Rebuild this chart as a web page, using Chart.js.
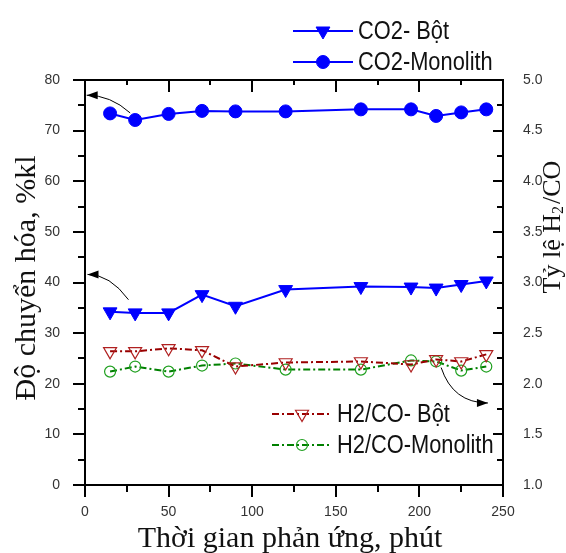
<!DOCTYPE html>
<html>
<head>
    <title>CO2 conversion and H2/CO ratio</title>
    <script src="https://cdn.jsdelivr.net/npm/chart.js@4.4.0/dist/chart.umd.min.js" type="text/javascript"></script>
    <style>
        html, body { margin: 0; padding: 0; background: white; }
        #wrap { width: 566px; height: 553px; }
    </style>
</head>
<body>
    <div id="wrap"><canvas id="chart"></canvas></div>
<script>
    // data
    const times = [15, 30, 50, 70, 90, 120, 165, 195, 210, 225, 240];
    const co2Bot = [34.2, 34.0, 34.0, 37.6, 35.3, 38.6, 39.2, 39.1, 38.9, 39.6, 40.3];
    const co2Mono = [73.4, 72.1, 73.3, 73.9, 73.8, 73.8, 74.2, 74.2, 72.9, 73.6, 74.2];
    const h2coBot = [2.32, 2.32, 2.35, 2.33, 2.17, 2.21, 2.22, 2.19, 2.24, 2.22, 2.29];
    const h2coMono = [2.12, 2.17, 2.12, 2.18, 2.20, 2.14, 2.14, 2.23, 2.22, 2.13, 2.17];

    const xTicks = [0, 50, 100, 150, 200, 250];
    const yTicks = [0, 10, 20, 30, 40, 50, 60, 70, 80];
    const y1Ticks = [1.0, 1.5, 2.0, 2.5, 3.0, 3.5, 4.0, 4.5, 5.0];

    // arrows: start -> tip, with bend (how far along x the control point sits), axis id
    const arrows = [
        {from: [27, 73.5], to: [1, 77], bend: 0.45, axis: 'y'},
        {from: [26, 36.6], to: [1.5, 41.6], bend: 0.45, axis: 'y'},
        {from: [213, 2.16], to: [241, 1.81], bend: 0.25, axis: 'y1'}
    ];

    const sans = "'Liberation Sans', Arial, sans-serif";
    const serif = "'Liberation Serif', 'Times New Roman', serif";
    const blue = '#0000ff';
    const darkRed = '#990000';
    const green = '#008000';
    const dashDot = [7, 3, 2, 3];

    function pts(ys) {
        return times.map((t, i) => ({x: t, y: ys[i]}));
    }

    const frame = {
        id: 'frame',
        afterDraw(chart) {
            const ctx = chart.ctx;
            const a = chart.chartArea;
            const sx = chart.scales.x, sy = chart.scales.y, sy1 = chart.scales.y1;
            ctx.save();
            ctx.strokeStyle = '#000';
            ctx.lineWidth = 2;
            ctx.strokeRect(a.left, a.top, a.right - a.left, a.bottom - a.top);
            ctx.beginPath();
            // bottom + top ticks
            for (let v = 0; v <= 250; v += 25) {
                const px = Math.round(sx.getPixelForValue(v));
                const major = v % 50 === 0;
                ctx.moveTo(px, a.bottom);
                ctx.lineTo(px, a.bottom + (major ? 12 : 7));
                ctx.moveTo(px, a.top);
                ctx.lineTo(px, a.top + (major ? 12 : 5));
            }
            // left ticks
            for (let v = 0; v <= 80; v += 5) {
                const py = Math.round(sy.getPixelForValue(v));
                ctx.moveTo(a.left, py);
                ctx.lineTo(a.left - (v % 10 === 0 ? 12 : 7), py);
            }
            // right ticks
            for (let v = 1; v <= 5.001; v += 0.25) {
                const py = Math.round(sy1.getPixelForValue(v));
                const major = Math.abs(v * 2 - Math.round(v * 2)) < 1e-6;
                ctx.moveTo(a.right, py);
                ctx.lineTo(a.right - (major ? 10 : 6), py);
            }
            ctx.stroke();

            // axis titles
            ctx.fillStyle = '#111';
            ctx.font = '30px ' + serif;
            ctx.textAlign = 'center';
            ctx.textBaseline = 'middle';
            ctx.fillText('Thời gian phản ứng, phút', 290, 539);
            ctx.save();
            ctx.translate(27, 278);
            ctx.rotate(-Math.PI / 2);
            ctx.fillText('Độ chuyển hóa, %kl', 0, 0);
            ctx.restore();
            ctx.save();
            ctx.translate(553, 227);
            ctx.rotate(-Math.PI / 2);
            ctx.textAlign = 'left';
            ctx.font = '26px ' + serif;
            const t1 = 'Tỷ lệ H';
            const w1 = ctx.measureText(t1).width;
            const full = w1 + 10 + ctx.measureText('/CO').width;
            const x0 = -full / 2;
            ctx.fillText(t1, x0, 0);
            ctx.font = '16px ' + serif;
            ctx.fillText('2', x0 + w1, 6);
            ctx.font = '26px ' + serif;
            ctx.fillText('/CO', x0 + w1 + 10, 0);
            ctx.restore();

            // arrows
            ctx.strokeStyle = '#000';
            ctx.fillStyle = '#000';
            ctx.lineWidth = 1;
            for (const ar of arrows) {
                const ys = chart.scales[ar.axis];
                const x1 = sx.getPixelForValue(ar.from[0]);
                const y1 = ys.getPixelForValue(ar.from[1]);
                const x2 = sx.getPixelForValue(ar.to[0]);
                const y2 = ys.getPixelForValue(ar.to[1]);
                const cx = x1 + (x2 - x1) * ar.bend;
                const cy = y2;
                ctx.beginPath();
                ctx.moveTo(x1, y1);
                ctx.quadraticCurveTo(cx, cy, x2, y2);
                ctx.stroke();
                const ang = Math.atan2(y2 - cy, x2 - cx);
                ctx.beginPath();
                ctx.moveTo(x2, y2);
                ctx.lineTo(x2 - 11 * Math.cos(ang) + 4 * Math.sin(ang), y2 - 11 * Math.sin(ang) - 4 * Math.cos(ang));
                ctx.lineTo(x2 - 11 * Math.cos(ang) - 4 * Math.sin(ang), y2 - 11 * Math.sin(ang) + 4 * Math.cos(ang));
                ctx.closePath();
                ctx.fill();
            }

            // legends
            const items = [
                {ds: 0, x: 293, y: 31},
                {ds: 1, x: 293, y: 62},
                {ds: 2, x: 272, y: 414},
                {ds: 3, x: 272, y: 445}
            ];
            for (const it of items) {
                const ds = chart.data.datasets[it.ds];
                ctx.save();
                ctx.strokeStyle = ds.borderColor;
                ctx.lineWidth = 2;
                ctx.setLineDash(ds.borderDash || []);
                ctx.beginPath();
                ctx.moveTo(it.x, it.y);
                ctx.lineTo(it.x + 60, it.y);
                ctx.stroke();
                ctx.setLineDash([]);
                ctx.fillStyle = ds.pointBackgroundColor;
                ctx.strokeStyle = ds.pointBorderColor;
                ctx.lineWidth = ds.pointBorderWidth || 1;
                Chart.helpers.drawPoint(ctx, {
                    pointStyle: ds.pointStyle,
                    rotation: ds.pointRotation || 0,
                    radius: ds.pointRadius,
                    borderWidth: ds.pointBorderWidth || 1
                }, it.x + 30, it.y);
                ctx.restore();
                // condensed look of the original legend font
                ctx.save();
                ctx.translate(it.x + 65, it.y + 1);
                ctx.scale(0.84, 1);
                ctx.fillStyle = '#111';
                ctx.font = '26px ' + sans;
                ctx.textAlign = 'left';
                ctx.textBaseline = 'middle';
                ctx.fillText(ds.label, 0, 0);
                ctx.restore();
            }
            ctx.restore();
        }
    };

    const chart = new Chart(document.getElementById('chart'), {
        type: 'line',
        data: {
            datasets: [{
                label: 'CO2- Bột',
                data: pts(co2Bot),
                yAxisID: 'y',
                borderColor: blue,
                borderWidth: 2,
                pointStyle: 'triangle',
                pointRotation: 180,
                pointRadius: 8,
                pointBackgroundColor: blue,
                pointBorderColor: blue,
                pointBorderWidth: 1
            }, {
                label: 'CO2-Monolith',
                data: pts(co2Mono),
                yAxisID: 'y',
                borderColor: blue,
                borderWidth: 2,
                pointStyle: 'circle',
                pointRadius: 6.5,
                pointBackgroundColor: blue,
                pointBorderColor: blue,
                pointBorderWidth: 1
            }, {
                label: 'H2/CO- Bột',
                data: pts(h2coBot),
                yAxisID: 'y1',
                borderColor: darkRed,
                borderWidth: 2,
                borderDash: dashDot,
                pointStyle: 'triangle',
                pointRotation: 180,
                pointRadius: 7.5,
                pointBackgroundColor: 'rgba(255,255,255,0)',
                pointBorderColor: '#b02020',
                pointBorderWidth: 1.2
            }, {
                label: 'H2/CO-Monolith',
                data: pts(h2coMono),
                yAxisID: 'y1',
                borderColor: green,
                borderWidth: 2,
                borderDash: dashDot,
                pointStyle: 'circle',
                pointRadius: 5.5,
                pointBackgroundColor: 'rgba(255,255,255,0)',
                pointBorderColor: '#20a020',
                pointBorderWidth: 1.2
            }]
        },
        options: {
            responsive: true,
            maintainAspectRatio: false,
            animation: false,
            layout: {padding: {top: 80, left: 0, right: 0, bottom: 0}},
            plugins: {legend: {display: false}, tooltip: {enabled: false}},
            scales: {
                x: {
                    type: 'linear',
                    position: 'bottom',
                    min: 0, max: 250,
                    afterBuildTicks: s => { s.ticks = xTicks.map(v => ({value: v})); },
                    afterFit: s => { s.height = 68; },
                    grid: {display: false, drawTicks: false},
                    border: {display: false},
                    ticks: {
                        padding: 19, autoSkip: false, maxRotation: 0,
                        color: '#333', font: {family: sans, size: 14}
                    }
                },
                y: {
                    type: 'linear',
                    position: 'left',
                    min: 0, max: 80,
                    afterBuildTicks: s => { s.ticks = yTicks.map(v => ({value: v})); },
                    afterFit: s => { s.width = 85; },
                    grid: {display: false, drawTicks: false},
                    border: {display: false},
                    ticks: {
                        padding: 25, autoSkip: false,
                        color: '#333', font: {family: sans, size: 14}
                    }
                },
                y1: {
                    type: 'linear',
                    position: 'right',
                    min: 1, max: 5,
                    afterBuildTicks: s => { s.ticks = y1Ticks.map(v => ({value: v})); },
                    afterFit: s => { s.width = 63; },
                    grid: {display: false, drawTicks: false},
                    border: {display: false},
                    ticks: {
                        padding: 20, autoSkip: false,
                        color: '#333', font: {family: sans, size: 14},
                        callback: v => v.toFixed(1)
                    }
                }
            }
        },
        plugins: [frame]
    });
</script>
</body>
</html>
